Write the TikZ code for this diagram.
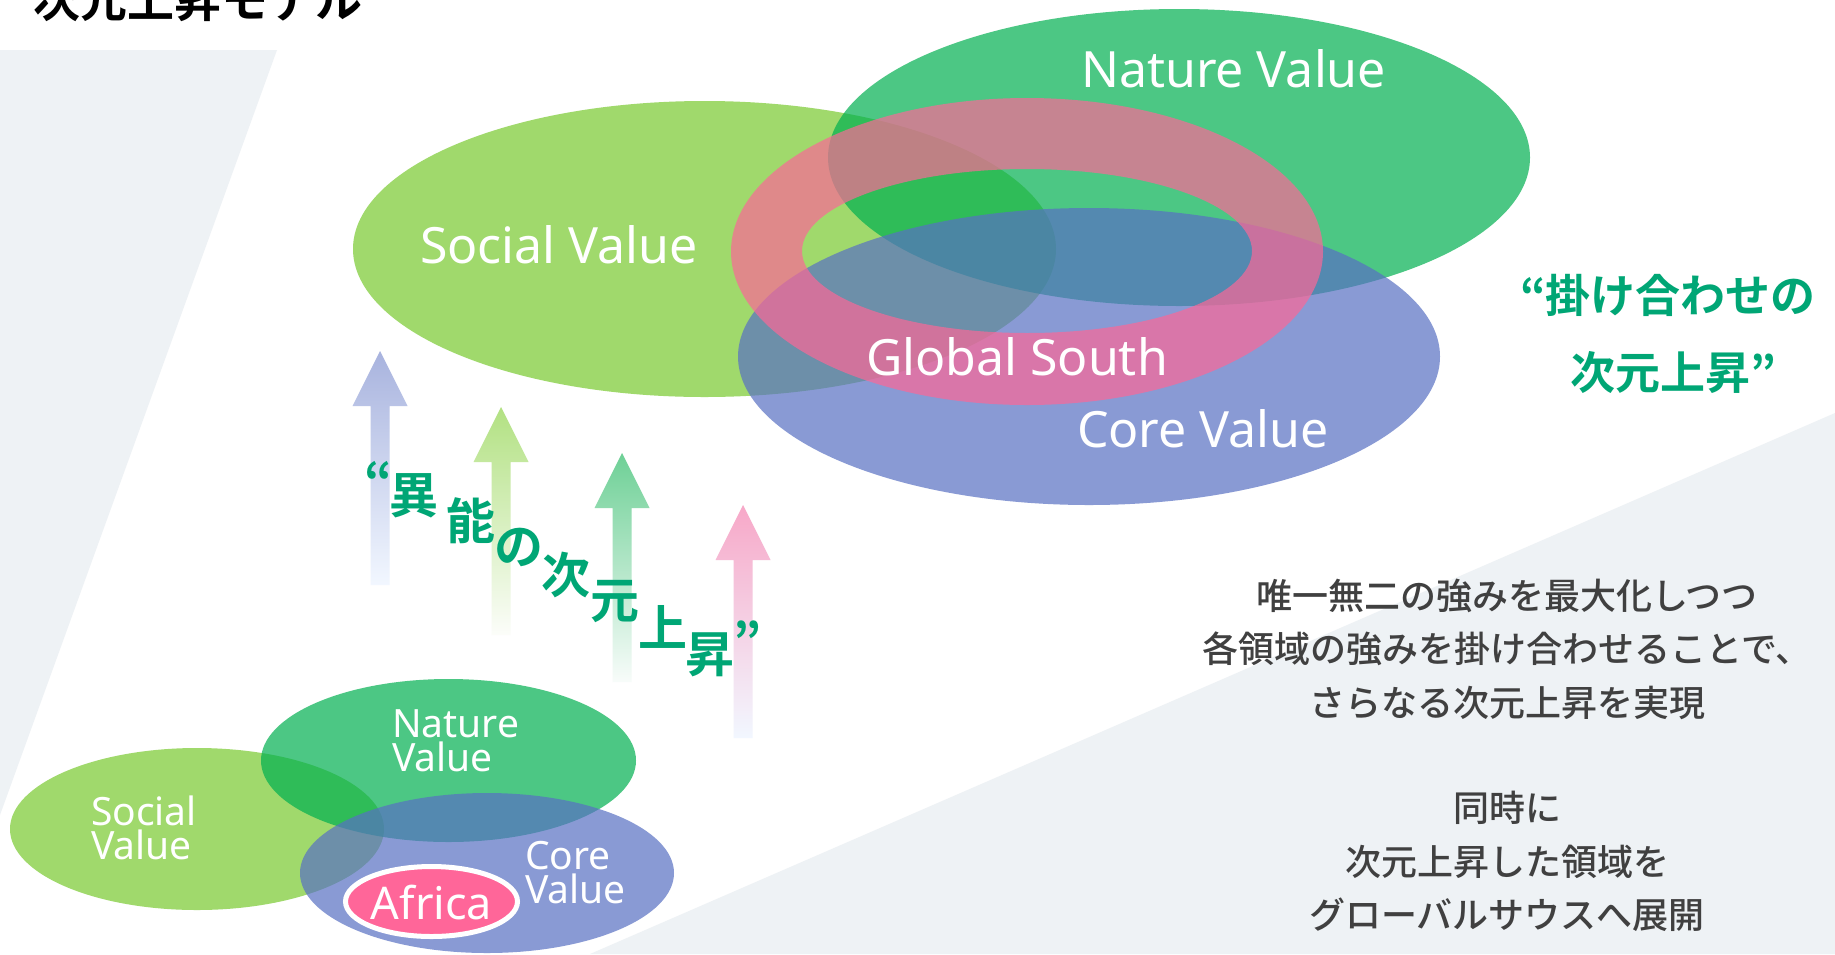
\documentclass[tikz,border=0pt]{standalone}
\usepackage{fontspec}
\setmainfont{Noto Sans}
\newfontfamily\jpf{Noto Sans CJK JP Medium}
\newfontfamily\jpb{Noto Sans CJK JP Bold}
\newfontfamily\latf{Noto Sans}
\definecolor{bggray}{RGB}{238,242,245}
\definecolor{socialc}{RGB}{160,217,108}
\definecolor{naturec}{RGB}{0,176,80}
\definecolor{corec}{RGB}{88,112,195}
\definecolor{ringc}{RGB}{251,104,151}
\definecolor{africac}{RGB}{255,102,153}
\definecolor{greentxt}{RGB}{0,166,117}
\definecolor{graytxt}{RGB}{64,64,64}
\definecolor{aonet}{RGB}{168,179,222}
\definecolor{aoneb}{RGB}{242,247,255}
\definecolor{atwot}{RGB}{178,225,130}
\definecolor{atwob}{RGB}{252,253,250}
\definecolor{athreet}{RGB}{110,208,150}
\definecolor{athreeb}{RGB}{248,252,250}
\definecolor{afourt}{RGB}{247,168,200}
\definecolor{afourb}{RGB}{242,247,255}
\tikzset{
  txt/.style={inner sep=0pt, outer sep=0pt},
  biglabel/.style={txt, anchor=base, text=white, font=\latf\fontsize{50}{50}\selectfont},
  smalllabel/.style={txt, anchor=base west, text=white, font=\latf\fontsize{39}{39}\selectfont},
  diag/.style={txt, text=greentxt, font=\jpb\fontsize{49}{49}\selectfont},
  semi/.style={fill opacity=0.7},
}
\newcommand{\uparrowshape}[6]{% tipx, tipy, baseY, bottomY, topcolor, bottomcolor
  \shade[top color=#5, bottom color=#6]
    (#1,#2) -- (#1+27.5,#3) -- (#1+9.5,#3) -- (#1+9.5,#4) -- (#1-9.5,#4)
    -- (#1-9.5,#3) -- (#1-27.5,#3) -- cycle;}
\begin{document}
\begin{tikzpicture}[x=1pt,y=-1pt]
\useasboundingbox (0,0) rectangle (1835,954);
\fill[white] (0,0) rectangle (1835,954);
% background slabs
\fill[bggray] (0,50) -- (277,50) -- (0,815) -- cycle;
\fill[bggray] (1835,413) -- (590,954) -- (1835,954) -- cycle;
% title
\node[txt, anchor=base, font=\jpb\fontsize{47}{47}\selectfont] (title) at (198,17) {次元上昇モデル};

% big diagram
\fill[socialc] (704.5,249) ellipse [x radius=351.5pt, y radius=148pt];
\fill[naturec, semi] (1179,157.5) ellipse [x radius=351pt, y radius=148.5pt];
\fill[corec, semi] (1089,356.5) ellipse [x radius=351pt, y radius=148.5pt];
\fill[ringc, semi, even odd rule] (1027,251.5) ellipse [x radius=296pt, y radius=153.5pt]
   (1027,251) ellipse [x radius=225pt, y radius=82pt];
\node[biglabel] (natureL) at (1233.5,87) {Nature Value};
\node[biglabel] (socialL) at (559,263) {Social Value};
\node[biglabel] (globalL) at (1017,375) {Global South};
\node[biglabel] (coreL) at (1203,447) {Core Value};

% arrows
\uparrowshape{380}{351}{406}{585}{aonet}{aoneb}
\uparrowshape{501}{407}{462}{635}{atwot}{atwob}
\uparrowshape{622}{453}{508}{682}{athreet}{athreeb}
\uparrowshape{743}{505}{560}{738}{afourt}{afourb}

% diagonal text
\node[diag] (q1) at (379,480) {“};
\node[diag] (c1) at (414,496) {異};
\node[diag] (c2) at (471,521) {能};
\node[diag] (c3) at (519,547) {の};
\node[diag] (c4) at (566,575) {次};
\node[diag] (c5) at (615,602) {元};
\node[diag] (c6) at (663,627) {上};
\node[diag] (c7) at (710,655) {昇};
\node[diag] (q2) at (748,640) {”};

% right green text
\node[txt, text=greentxt, font=\jpb\fontsize{45}{45}\selectfont] (gr1) at (1668,295) {“掛け合わせの};
\node[txt, text=greentxt, font=\jpb\fontsize{45}{45}\selectfont] (gr2) at (1673,372) {次元上昇”};

% right gray text
\node[txt, text=graytxt, align=center, font=\jpf\fontsize{36}{53.5}\selectfont] (body1) at (1507,649)
  {唯一無二の強みを最大化しつつ\\各領域の強みを掛け合わせることで、\\さらなる次元上昇を実現};
\node[txt, text=graytxt, align=center, font=\jpf\fontsize{36}{53.5}\selectfont] (body2) at (1507,861.5)
  {同時に\\次元上昇した領域を\\グローバルサウスへ展開};

% small diagram
\fill[socialc] (197,829) ellipse [x radius=187pt, y radius=81pt];
\fill[naturec, semi] (448.5,760.5) ellipse [x radius=187.5pt, y radius=81.5pt];
\fill[corec, semi] (487,873) ellipse [x radius=187pt, y radius=80pt];
\draw[white, line width=5pt, fill=africac] (431.5,901.5) ellipse [x radius=86pt, y radius=35pt];
\node[smalllabel] (sS1) at (91,825) {Social};
\node[smalllabel] (sS2) at (91,859) {Value};
\node[smalllabel] (sN1) at (392,737) {Nature};
\node[smalllabel] (sN2) at (392,771) {Value};
\node[smalllabel] (sC1) at (525,869) {Core};
\node[smalllabel] (sC2) at (525,903) {Value};
\node[txt, anchor=base, text=white, font=\latf\fontsize{45}{45}\selectfont] (africaL) at (431.5,919) {Africa};
\end{tikzpicture}
\end{document}
